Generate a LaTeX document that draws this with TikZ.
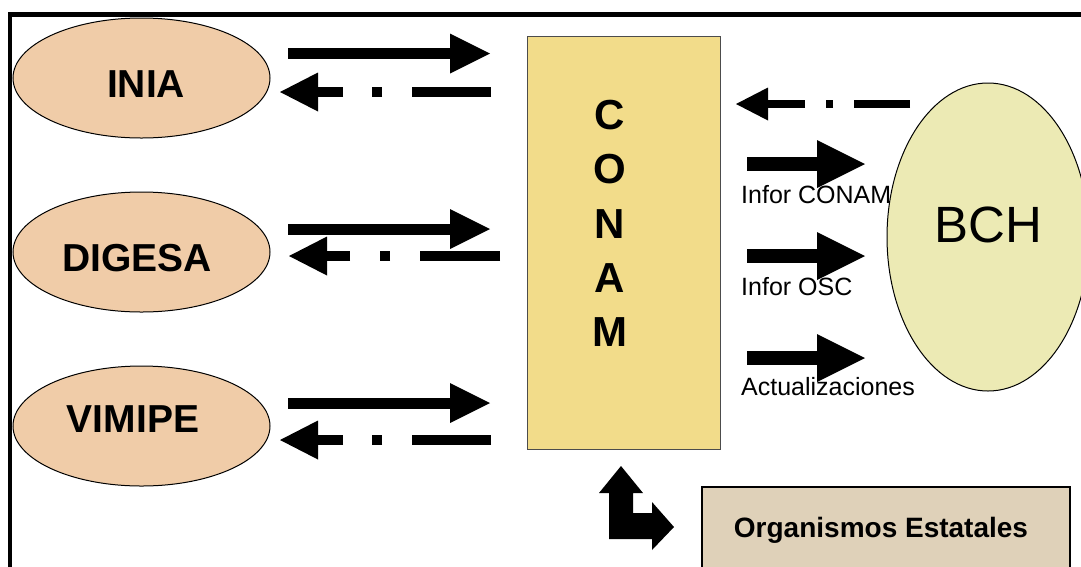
\documentclass[tikz,border=0pt]{standalone}
\usepackage{fontspec}
\setmainfont{Liberation Sans}
\usetikzlibrary{arrows.meta,shapes.geometric}
\definecolor{peach}{RGB}{240,204,168}
\definecolor{conamc}{RGB}{242,220,138}
\definecolor{bchc}{RGB}{236,234,180}
\definecolor{orgc}{RGB}{223,209,185}
\begin{document}
\begin{tikzpicture}[x=1pt,y=-1pt,
  org/.style={ellipse, draw=black, line width=1pt, fill=peach, minimum width=257pt, minimum height=120pt, inner sep=0pt},
  big/.style={font=\fontsize{39}{39}\selectfont\bfseries, anchor=base, inner sep=0pt},
  letter/.style={font=\fontsize{42}{42}\selectfont\bfseries, anchor=base, inner sep=0pt},
  lbl/.style={font=\fontsize{25}{25}\selectfont, anchor=base west, inner sep=0pt},
  fwd/.style={line width=11pt, -{Triangle[length=40pt,width=40pt,line width=0pt]}},
  back/.style={line width=10pt, dash pattern=on 79pt off 30pt on 10pt off 29pt on 80pt, -{Triangle[length=38pt,width=39pt,line width=0pt]}},
  backs/.style={line width=8pt, dash pattern=on 56pt off 21pt on 7pt off 21pt on 60pt, -{Triangle[length=32pt,width=33pt,line width=0pt]}},
  outa/.style={line width=14pt, -{Triangle[length=48pt,width=48pt,line width=0pt]}}]
\useasboundingbox (0,0) rectangle (1081,566);
\clip (0,0) rectangle (1081,566);
% frame
\draw[line width=4.5pt] (10,600) -- (10,14.5) -- (1100,14.5);
% left ellipses
\node[org] (inia) at (141.5,78) {};
\node[big] (iniaT) at (146,97) {INIA};
\node[org] (digesa) at (141.5,252) {};
\node[big] (digesaT) at (137,271) {DIGESA};
\node[org] (vimipe) at (141.5,426) {};
\node[big] (vimipeT) at (133,432) {VIMIPE};
% CONAM
\node[draw=black!70, line width=0.8pt, fill=conamc, minimum width=193pt, minimum height=413pt, inner sep=0pt, anchor=north west] (conam) at (527,36) {};
\node[letter] (c1) at (610,129) {C};
\node[letter] (c2) at (610,183) {O};
\node[letter] (c3) at (610,238) {N};
\node[letter] (c4) at (610,292) {A};
\node[letter] (c5) at (610,346) {M};
% BCH
\node[ellipse, draw=black, line width=1pt, fill=bchc, minimum width=202pt, minimum height=308pt, inner sep=0pt] (bch) at (988,237) {};
\node[font=\fontsize{51}{51}\selectfont, anchor=base, inner sep=0pt] (bchT) at (988.5,242) {BCH};
% Organismos
\node[draw=black, line width=1.5pt, fill=orgc, minimum width=368pt, minimum height=120pt, inner sep=0pt, anchor=north west] (orgs) at (701,486) {};
\node[font=\fontsize{28}{28}\selectfont\bfseries, anchor=base, inner sep=0pt] (orgsT) at (881,537) {Organismos Estatales};
% arrows left
\coordinate (a1s) at (288,53.5); \coordinate (a1e) at (490,53.5);
\coordinate (b1s) at (491,92); \coordinate (b1e) at (280,92);
\coordinate (a2s) at (288,229); \coordinate (a2e) at (490,229);
\coordinate (b2s) at (500,256); \coordinate (b2e) at (289,256);
\coordinate (a3s) at (288,403); \coordinate (a3e) at (490,403);
\coordinate (b3s) at (491,440); \coordinate (b3e) at (280,440);
\draw[fwd] (a1s) -- (a1e);
\draw[back] (b1s) -- (b1e);
\draw[fwd] (a2s) -- (a2e);
\draw[back, dash pattern=on 80pt off 30pt on 10pt off 30pt on 80pt] (b2s) -- (b2e);
\draw[fwd] (a3s) -- (a3e);
\draw[back] (b3s) -- (b3e);
% arrows right
\coordinate (r0s) at (910,104); \coordinate (r0e) at (736,104);
\draw[backs] (r0s) -- (r0e);
\coordinate (r1s) at (747,164); \coordinate (r1e) at (865,164);
\coordinate (r2s) at (747,256); \coordinate (r2e) at (865,256);
\coordinate (r3s) at (747,358); \coordinate (r3e) at (865,358);
\draw[outa] (r1s) -- (r1e);
\draw[outa] (r2s) -- (r2e);
\draw[outa] (r3s) -- (r3e);
\node[lbl] (l1) at (741,203) {Infor CONAM};
\node[lbl] (l2) at (741,295) {Infor OSC};
\node[lbl] (l3) at (741,395) {Actualizaciones};
% L arrow
\fill[black] (621,466) -- (643,493) -- (633,493) -- (633,513) -- (652,513) -- (652,502) -- (674,527) -- (652,550) -- (652,539) -- (609,539) -- (609,493) -- (599,493) -- cycle;
\end{tikzpicture}
\end{document}
